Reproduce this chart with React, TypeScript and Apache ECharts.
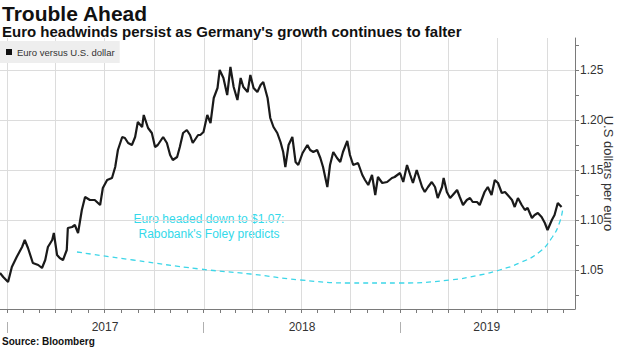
import React, { useEffect, useRef } from 'react';
import * as echarts from 'echarts';

const FONT = '"Liberation Sans", Arial, sans-serif';

const titleText = 'Trouble Ahead';
const subtitleText = "Euro headwinds persist as Germany's growth continues to falter";
const seriesName = 'Euro versus U.S. dollar';
const yAxisName = 'U.S dollars per euro';
const sourceText = 'Source: Bloomberg';
const noteLines = ['Euro headed down to $1.07:', "Rabobank's Foley predicts"];

const axisStart = '2016-12-19';
const axisEnd = '2019-11-22';

const euroUsd: [string, number][] = [
  ['2016-12-19', 1.047], ['2016-12-25', 1.043], ['2017-01-03', 1.038], ['2017-01-10', 1.053],
  ['2017-01-19', 1.063], ['2017-01-29', 1.073], ['2017-02-03', 1.080], ['2017-02-09', 1.072],
  ['2017-02-18', 1.057], ['2017-02-28', 1.055], ['2017-03-07', 1.052], ['2017-03-13', 1.060],
  ['2017-03-18', 1.073], ['2017-03-26', 1.080], ['2017-03-29', 1.087], ['2017-04-04', 1.065],
  ['2017-04-09', 1.062], ['2017-04-15', 1.060], ['2017-04-22', 1.070], ['2017-04-24', 1.092],
  ['2017-05-02', 1.093], ['2017-05-07', 1.095], ['2017-05-13', 1.087], ['2017-05-20', 1.110],
  ['2017-05-26', 1.123], ['2017-06-04', 1.120], ['2017-06-13', 1.120], ['2017-06-23', 1.115],
  ['2017-06-28', 1.132], ['2017-07-06', 1.140], ['2017-07-15', 1.142], ['2017-07-21', 1.153],
  ['2017-07-26', 1.170], ['2017-08-03', 1.183], ['2017-08-08', 1.182], ['2017-08-14', 1.177],
  ['2017-08-21', 1.175], ['2017-08-27', 1.183], ['2017-09-01', 1.198], ['2017-09-09', 1.193],
  ['2017-09-12', 1.205], ['2017-09-20', 1.192], ['2017-09-27', 1.187], ['2017-10-03', 1.173],
  ['2017-10-08', 1.175], ['2017-10-18', 1.183], ['2017-10-25', 1.177], ['2017-10-31', 1.165],
  ['2017-11-05', 1.160], ['2017-11-13', 1.163], ['2017-11-18', 1.173], ['2017-11-24', 1.187],
  ['2017-12-01', 1.190], ['2017-12-07', 1.185], ['2017-12-12', 1.177], ['2017-12-22', 1.185],
  ['2017-12-26', 1.185],
  ['2018-01-01', 1.188], ['2018-01-08', 1.205], ['2018-01-14', 1.197], ['2018-01-20', 1.222],
  ['2018-01-27', 1.232], ['2018-01-31', 1.250], ['2018-02-07', 1.242], ['2018-02-14', 1.225],
  ['2018-02-20', 1.253], ['2018-02-26', 1.233], ['2018-03-05', 1.220], ['2018-03-11', 1.242],
  ['2018-03-16', 1.233], ['2018-03-24', 1.228], ['2018-03-29', 1.245], ['2018-04-04', 1.232],
  ['2018-04-11', 1.228], ['2018-04-17', 1.235], ['2018-04-22', 1.238], ['2018-04-30', 1.222],
  ['2018-05-05', 1.202], ['2018-05-11', 1.193], ['2018-05-18', 1.187], ['2018-05-24', 1.178],
  ['2018-05-29', 1.168], ['2018-06-02', 1.153], ['2018-06-08', 1.175], ['2018-06-15', 1.183],
  ['2018-06-21', 1.158], ['2018-06-26', 1.155], ['2018-07-04', 1.167], ['2018-07-13', 1.175],
  ['2018-07-18', 1.170], ['2018-07-24', 1.168], ['2018-07-31', 1.170], ['2018-08-06', 1.162],
  ['2018-08-11', 1.153], ['2018-08-19', 1.133], ['2018-08-24', 1.155], ['2018-08-30', 1.168],
  ['2018-09-06', 1.162], ['2018-09-12', 1.158], ['2018-09-17', 1.168], ['2018-09-25', 1.179],
  ['2018-09-30', 1.165], ['2018-10-06', 1.155], ['2018-10-15', 1.157], ['2018-10-23', 1.145],
  ['2018-10-28', 1.140], ['2018-11-03', 1.135], ['2018-11-10', 1.145], ['2018-11-16', 1.125],
  ['2018-11-21', 1.143], ['2018-11-29', 1.137], ['2018-12-08', 1.138], ['2018-12-17', 1.142],
  ['2018-12-22', 1.143],
  ['2019-01-01', 1.147], ['2019-01-07', 1.138], ['2019-01-14', 1.155], ['2019-01-20', 1.145],
  ['2019-01-25', 1.137], ['2019-02-01', 1.150], ['2019-02-11', 1.133], ['2019-02-16', 1.128],
  ['2019-02-22', 1.133], ['2019-03-01', 1.138], ['2019-03-07', 1.133], ['2019-03-12', 1.122],
  ['2019-03-20', 1.133], ['2019-03-23', 1.142], ['2019-03-29', 1.128], ['2019-04-04', 1.122],
  ['2019-04-09', 1.125], ['2019-04-17', 1.130], ['2019-04-22', 1.123], ['2019-04-28', 1.115],
  ['2019-05-05', 1.120], ['2019-05-11', 1.122], ['2019-05-16', 1.118], ['2019-05-24', 1.118],
  ['2019-05-29', 1.115], ['2019-06-07', 1.128], ['2019-06-13', 1.133], ['2019-06-20', 1.125],
  ['2019-06-26', 1.140], ['2019-07-02', 1.137], ['2019-07-09', 1.127], ['2019-07-15', 1.128],
  ['2019-07-20', 1.125], ['2019-07-28', 1.120], ['2019-08-02', 1.113], ['2019-08-08', 1.122],
  ['2019-08-15', 1.115], ['2019-08-21', 1.110], ['2019-08-26', 1.112], ['2019-09-03', 1.102],
  ['2019-09-08', 1.105], ['2019-09-14', 1.107], ['2019-09-21', 1.103], ['2019-09-27', 1.097],
  ['2019-10-02', 1.090], ['2019-10-10', 1.100], ['2019-10-15', 1.105], ['2019-10-21', 1.117],
  ['2019-10-28', 1.113],
];

const forecastPath: [string, number][] = [
  ['2017-05-11', 1.068], ['2017-08-23', 1.060], ['2017-12-25', 1.051], ['2018-03-29', 1.046],
  ['2018-06-30', 1.040], ['2018-10-01', 1.037], ['2019-01-01', 1.037], ['2019-04-04', 1.040],
  ['2019-05-29', 1.045], ['2019-07-05', 1.050], ['2019-08-11', 1.057], ['2019-09-17', 1.068],
  ['2019-10-11', 1.083], ['2019-10-24', 1.097], ['2019-10-30', 1.110],
];

const yMin = 1.011;
const yMax = 1.282;
const yLabelValues = [1.05, 1.1, 1.15, 1.2, 1.25];
const yTickValues = [1.025, 1.05, 1.075, 1.1, 1.125, 1.15, 1.175, 1.2, 1.225, 1.25, 1.275];

const yearStarts = ['2017-01-01', '2018-01-01', '2019-01-01'];
const yearLabels = ['2017', '2018', '2019'];
const yearLabelAt = ['2017-07-02', '2018-07-03', '2019-06-11'];

const ts = (s: string) => new Date(s + 'T00:00:00').getTime();

function monthStarts(stepMonths: number): number[] {
  const out: number[] = [];
  const end = ts(axisEnd);
  for (let d = new Date(2017, 0, 1); d.getTime() <= end; d = new Date(d.getFullYear(), d.getMonth() + stepMonths, 1)) {
    out.push(d.getTime());
  }
  return out;
}

export default function App() {
  const ref = useRef<HTMLDivElement>(null);

  useEffect(() => {
    if (!ref.current) return;
    const chart = echarts.init(ref.current, null, { renderer: 'svg' });
    const labelTs = yearLabelAt.map(ts);
    const xMin = ts(axisStart);
    const xMax = ts(axisEnd);
    const gridColor = '#dcdcdc';
    const axisColor = '#7a7a7a';

    const hGridData = yLabelValues.map((v) => [xMin, v]);
    const vGridData = monthStarts(3).map((t) => [t, yMin]);

    const option: any = {
      animation: false,
      textStyle: { fontFamily: FONT },
      grid: { left: 0, right: 45, top: 38, bottom: 39, containLabel: false, outerBoundsMode: 'none' },
      legend: {
        data: [{ name: seriesName, icon: 'rect' }],
        left: 0,
        top: 41,
        padding: [6, 5, 6, 6],
        itemWidth: 6,
        itemHeight: 6,
        backgroundColor: '#eeeeee',
        selectedMode: false,
        textStyle: { fontSize: 9.5, color: '#333', fontFamily: FONT },
      },
      xAxis: [
        {
          type: 'value',
          min: xMin,
          max: xMax,
          position: 'bottom',
          axisLine: { show: true, onZero: false, lineStyle: { color: axisColor, width: 1 } },
          axisTick: { show: true, customValues: monthStarts(1), length: 4, lineStyle: { color: axisColor } },
          axisLabel: {
            show: true,
            customValues: labelTs,
            formatter: (v: number) => {
              const i = labelTs.findIndex((t) => Math.abs(t - v) < 86400000 * 2);
              return i >= 0 ? yearLabels[i] : '';
            },
            margin: 12,
            fontSize: 12,
            color: '#333',
            fontFamily: FONT,
          },
          splitLine: { show: false },
        },
        {
          type: 'value',
          min: xMin,
          max: xMax,
          position: 'bottom',
          offset: 13,
          axisLine: { show: false, onZero: false },
          axisTick: { show: true, customValues: yearStarts.map(ts), length: 11, lineStyle: { color: '#b0b0b0' } },
          axisLabel: { show: false },
          splitLine: { show: false },
        },
      ],
      yAxis: [
        {
          type: 'value',
          position: 'right',
          min: yMin,
          max: yMax,
          axisLine: { show: true, onZero: false, lineStyle: { color: axisColor, width: 1 } },
          axisTick: { show: true, customValues: yTickValues, length: 4, lineStyle: { color: axisColor } },
          axisLabel: {
            customValues: yLabelValues,
            formatter: (v: number) => v.toFixed(2),
            margin: 5,
            fontSize: 12,
            color: '#333',
            fontFamily: FONT,
          },
          splitLine: { show: false },
          name: yAxisName,
          nameLocation: 'middle',
          nameRotate: -90,
          nameGap: 27,
          nameMoveOverlap: false,
          nameTextStyle: { fontSize: 13, color: '#333', fontFamily: FONT },
        },
      ],
      series: [
        {
          name: 'hgrid',
          type: 'custom',
          xAxisIndex: 0,
          yAxisIndex: 0,
          silent: true,
          z: 1,
          data: hGridData,
          renderItem: (params: any, api: any) => {
            const cs = params.coordSys;
            const y = Math.round(api.coord([api.value(0), api.value(1)])[1]) + 0.5;
            return {
              type: 'line',
              shape: { x1: cs.x, y1: y, x2: cs.x + cs.width, y2: y },
              style: { stroke: gridColor, lineWidth: 1 },
            };
          },
        },
        {
          name: 'vgrid',
          type: 'custom',
          xAxisIndex: 0,
          yAxisIndex: 0,
          silent: true,
          z: 1,
          data: vGridData,
          renderItem: (params: any, api: any) => {
            const cs = params.coordSys;
            const x = Math.round(api.coord([api.value(0), api.value(1)])[0]) + 0.5;
            return {
              type: 'line',
              shape: { x1: x, y1: cs.y, x2: x, y2: cs.y + cs.height },
              style: { stroke: gridColor, lineWidth: 1 },
            };
          },
        },
        {
          name: 'forecast',
          type: 'line',
          xAxisIndex: 0,
          yAxisIndex: 0,
          data: forecastPath.map(([d, v]) => [ts(d), v]),
          smooth: 0.5,
          showSymbol: false,
          silent: true,
          lineStyle: { color: '#3dd6e8', width: 1.3, type: [5, 4] },
          z: 2,
        },
        {
          name: seriesName,
          type: 'line',
          xAxisIndex: 0,
          yAxisIndex: 0,
          data: euroUsd.map(([d, v]) => [ts(d), v]),
          showSymbol: false,
          itemStyle: { color: '#111111' },
          lineStyle: { color: '#1a1a1a', width: 2.2 },
          z: 3,
        },
      ],
      graphic: [
        {
          type: 'text',
          left: 2,
          top: 3,
          style: { text: titleText, font: `bold 21px ${FONT}`, fill: '#111' },
        },
        {
          type: 'text',
          left: 2,
          top: 24,
          style: { text: subtitleText, font: `bold 15px ${FONT}`, fill: '#111' },
        },
        {
          type: 'text',
          x: 209,
          y: 211,
          style: {
            text: noteLines.join('\n'),
            font: `12px ${FONT}`,
            fill: '#33d9ea',
            textAlign: 'center',
            lineHeight: 15,
          },
        },
        {
          type: 'text',
          left: 2,
          top: 336,
          style: { text: sourceText, font: `bold 10px ${FONT}`, fill: '#111' },
        },
      ],
    };

    chart.setOption(option);
    return () => chart.dispose();
  }, []);

  return <div ref={ref} style={{ width: 620, height: 348, position: 'absolute', left: 0, top: 0 }} />;
}
